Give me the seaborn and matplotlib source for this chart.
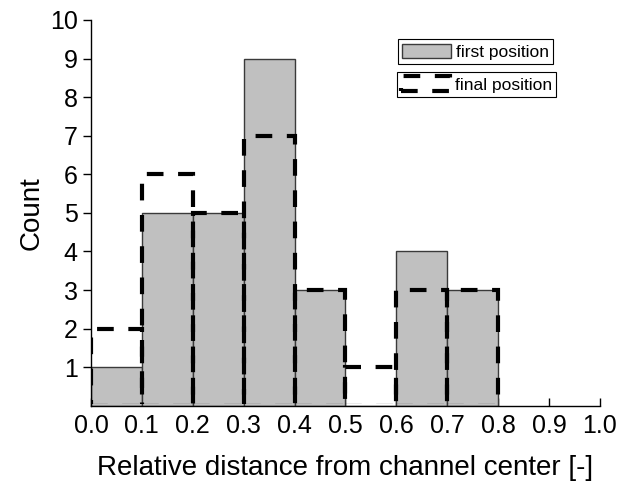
import numpy as np
import pandas as pd
import matplotlib
matplotlib.use("Agg")
import matplotlib.pyplot as plt
import seaborn as sns
from matplotlib.patches import Patch, Rectangle

# bin edges and counts
bin_edges   = [0.0, 0.1, 0.2, 0.3, 0.4, 0.5, 0.6, 0.7, 0.8]
bin_centers = [0.05, 0.15, 0.25, 0.35, 0.45, 0.55, 0.65, 0.75]
first_counts = [1, 5, 5, 9, 3, 0, 4, 3]
final_counts = [2, 6, 5, 7, 3, 1, 3, 3]

x_ticks = [0.0, 0.1, 0.2, 0.3, 0.4, 0.5, 0.6, 0.7, 0.8, 0.9, 1.0]
y_ticks = [1, 2, 3, 4, 5, 6, 7, 8, 9, 10]

sns.set_style("ticks")
plt.rcParams["font.family"] = ["Liberation Sans", "DejaVu Sans"]
plt.rcParams["text.color"] = "black"
plt.rcParams["axes.labelcolor"] = "black"
plt.rcParams["xtick.color"] = "black"
plt.rcParams["ytick.color"] = "black"

df = pd.DataFrame({"x": bin_centers, "first": first_counts, "final": final_counts})

fig = plt.figure(figsize=(6.23, 4.86), dpi=100)
ax = fig.add_axes([0.146, 0.165, 0.817, 0.794])

sns.histplot(data=df, x="x", weights="first", bins=bin_edges, ax=ax,
             color="#c0c0c0", edgecolor="#3a3a3a", linewidth=1.0, alpha=1.0)
n_first = len(ax.patches)
sns.histplot(data=df, x="x", weights="final", bins=bin_edges, ax=ax,
             fill=False, color="black", edgecolor="black", linewidth=3.0,
             linestyle=(0, (4, 3.5)))

# hide the dashed bottom edges sitting on the x axis
clip = Rectangle((0, 0.004), 1, 1.1, transform=ax.transAxes, facecolor="none")
for p in ax.patches[n_first:]:
    p.set_clip_path(clip)

ax.set_xlim(0, 1.0)
ax.set_ylim(0, 10)
ax.set_xticks(x_ticks)
ax.set_xticklabels([f"{v:.1f}" for v in x_ticks])
ax.set_yticks(y_ticks)
ax.tick_params(axis="x", direction="in", length=6, width=1, labelsize=18, pad=6)
ax.tick_params(axis="y", direction="out", length=6, width=1, labelsize=18)
sns.despine(ax=ax)
for s in ["left", "bottom"]:
    ax.spines[s].set_linewidth(1.0)
    ax.spines[s].set_color("black")

ax.set_xlabel("Relative distance from channel center [-]", fontsize=20, labelpad=12)
ax.set_ylabel("Count", fontsize=20, labelpad=4)

h1 = Patch(facecolor="#c0c0c0", edgecolor="#3a3a3a", linewidth=1.0)
h2 = Patch(facecolor="none", edgecolor="black", linewidth=3.0, linestyle=(0, (4, 3.5)))
leg1 = ax.legend([h1], ["first position"], loc="upper right", bbox_to_anchor=(0.908, 0.95),
                 fontsize=12.5, frameon=True, fancybox=False, framealpha=1,
                 edgecolor="black", handlelength=2.8, handleheight=0.9,
                 handletextpad=0.3, borderpad=0.25, borderaxespad=0)
leg1.get_frame().set_linewidth(0.8)
ax.add_artist(leg1)
leg2 = ax.legend([h2], ["final position"], loc="upper right", bbox_to_anchor=(0.914, 0.865),
                 fontsize=12.5, frameon=True, fancybox=False, framealpha=1,
                 edgecolor="black", handlelength=2.8, handleheight=0.9,
                 handletextpad=0.3, borderpad=0.25, borderaxespad=0)
leg2.get_frame().set_linewidth(0.8)

fig.savefig("out.png", dpi=100)
plt.close(fig)
